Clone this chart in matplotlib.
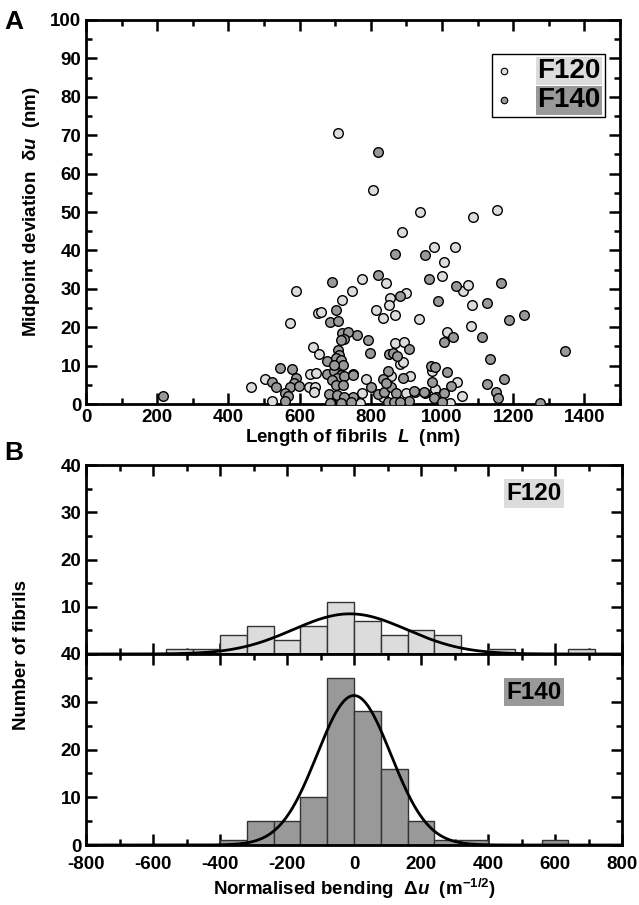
import matplotlib
matplotlib.use('Agg')
import matplotlib.pyplot as plt
from matplotlib.ticker import MultipleLocator
import numpy as np

plt.rcParams['font.family'] = ['Liberation Sans', 'DejaVu Sans']
plt.rcParams['font.weight'] = 'bold'
plt.rcParams['axes.labelweight'] = 'bold'
plt.rcParams['axes.unicode_minus'] = False
plt.rcParams['mathtext.fontset'] = 'custom'
plt.rcParams['mathtext.rm'] = 'Liberation Sans:bold'
plt.rcParams['mathtext.it'] = 'Liberation Sans:italic:bold'
plt.rcParams['mathtext.bf'] = 'Liberation Sans:bold'

LIGHT = '#dcdcdc'
DARK = '#999999'

# panel A: length of fibril (nm) vs midpoint deviation (nm)
f120_len = [708, 806, 937, 1088, 1155, 889, 977, 1037, 1007, 775, 842, 746, 1000, 1059,
            1072, 854, 900, 1085, 850, 814, 835, 869, 936, 1081, 1013, 869, 894, 882,
            891, 786, 911, 973, 1041, 979, 923, 899, 1003, 1023, 1055, 774, 770, 833,
            589, 720, 653, 660, 574, 638, 655, 504, 523, 463, 628, 645, 626, 643, 640, 857]
f120_dev = [70.5, 55.8, 50.0, 48.7, 50.4, 44.8, 41.0, 40.8, 37.1, 32.5, 31.5, 29.4, 33.4, 29.5,
            30.9, 27.5, 28.9, 25.9, 25.8, 24.5, 22.5, 23.2, 22.1, 20.2, 18.7, 15.8, 16.2, 10.4,
            10.9, 6.6, 7.2, 8.7, 5.8, 3.8, 3.0, 2.8, 0.2, 0.3, 2.2, 2.8, 0.3, 1.9,
            29.3, 27.2, 23.8, 24.0, 21.1, 14.8, 13.0, 6.6, 0.9, 4.4, 7.9, 8.0, 4.4, 4.5, 3.0, 7.2]

f140_len = [820, 869, 951, 819, 963, 1039, 1165, 692, 881, 990, 1126, 1229, 1187, 702,
            686, 708, 760, 792, 1005, 1030, 1111, 719, 736, 725, 716, 798, 907, 852,
            861, 874, 1345, 1136, 707, 678, 750, 800, 849, 833, 890, 970, 979, 1013,
            1024, 973, 953, 921, 906, 982, 1007, 751, 821, 838, 857, 871, 847, 866,
            883, 843, 1175, 1127, 1153, 1157, 1274, 546, 579, 523, 534, 590, 584, 574,
            598, 558, 568, 560, 215, 950, 977, 999, 678, 697, 716, 706, 725, 692,
            702, 721, 683, 706, 725, 686, 716, 744, 749, 711, 702, 716, 721, 697]
f140_dev = [65.5, 39.0, 38.8, 33.5, 32.6, 30.8, 31.4, 31.9, 28.1, 26.9, 26.3, 23.2, 22.0, 24.6,
            21.4, 21.7, 18.0, 16.7, 16.2, 17.4, 17.5, 18.5, 18.8, 16.9, 16.6, 13.3, 14.4, 12.9,
            13.4, 12.6, 13.8, 11.7, 14.1, 11.1, 7.7, 4.5, 8.7, 6.6, 6.9, 10.0, 9.6, 8.4,
            4.7, 5.8, 2.8, 3.5, 0.9, 1.9, 2.8, 1.9, 2.6, 3.2, 4.5, 2.8, 0.6, 0.6,
            0.6, 5.4, 6.6, 5.2, 3.2, 1.6, 0.2, 9.3, 9.1, 5.7, 4.5, 6.7, 5.4, 4.5,
            4.7, 2.8, 2.2, 0.8, 2.0, 3.2, 1.6, 0.4, 7.9, 8.7, 7.6, 6.7, 7.2, 6.3,
            5.0, 5.0, 2.6, 2.4, 1.9, 0.3, 0.3, 0.6, 7.6, 12.8, 12.0, 11.5, 10.2, 10.2]

# panel B: histograms of normalised bending (bin width 80)
bin_width = 80
f120_bins = [-560, -480, -400, -320, -240, -160, -80, 0, 80, 160, 240, 320, 400, 480, 560, 640]
f120_counts = [1, 1, 4, 6, 3, 6, 11, 7, 4, 5, 4, 0, 1, 0, 0, 1]
f140_bins = [-400, -320, -240, -160, -80, 0, 80, 160, 240, 320, 400, 480, 560]
f140_counts = [1, 5, 5, 10, 35, 28, 16, 5, 1, 1, 0, 0, 1]

# gaussian fits (centre, sigma, peak height)
f120_fit = (-12, 170, 8.5)
f140_fit = (0, 110, 31.3)

fig = plt.figure(figsize=(6.39, 9.05), dpi=100)
W, H = 639.0, 905.0
ax = fig.add_axes([86 / W, 1 - 404 / H, (620 - 86) / W, (404 - 20) / H])
ax1 = fig.add_axes([86 / W, 1 - 654 / H, (622 - 86) / W, (654 - 465) / H])
ax2 = fig.add_axes([86 / W, 1 - 845 / H, (622 - 86) / W, (845 - 654) / H])


def style(a):
    for s in a.spines.values():
        s.set_linewidth(2)
    a.tick_params(which='both', direction='in', top=True, right=True, width=1.8,
                  labelsize=13.5)
    a.tick_params(which='major', length=8)
    a.tick_params(which='minor', length=4)


# scatter
ax.scatter(f120_len, f120_dev, s=48, c=LIGHT, edgecolors='black', linewidths=1, zorder=3)
ax.scatter(f140_len, f140_dev, s=48, c=DARK, edgecolors='black', linewidths=1, zorder=3)
ax.set_xlim(0, 1500)
ax.set_ylim(0, 100)
ax.xaxis.set_major_locator(MultipleLocator(200))
ax.xaxis.set_minor_locator(MultipleLocator(100))
ax.yaxis.set_major_locator(MultipleLocator(10))
ax.yaxis.set_minor_locator(MultipleLocator(5))
style(ax)
ax.set_xlabel(r'Length of fibrils  $\mathit{L}$  (nm)', fontsize=13.5, labelpad=1)
ax.set_ylabel(r'Midpoint deviation  $\mathrm{\delta}\mathit{u}$  (nm)', fontsize=13.5, labelpad=6)

h1 = ax.scatter([], [], s=22, c=LIGHT, edgecolors='black', linewidths=0.8)
h2 = ax.scatter([], [], s=22, c=DARK, edgecolors='black', linewidths=0.8)
leg = ax.legend([h1, h2], ['F120', 'F140'], loc='upper right',
                bbox_to_anchor=(0.972, 0.912), fontsize=20, frameon=True, fancybox=False,
                framealpha=1, edgecolor='black', handlelength=0.6, handletextpad=0.9,
                borderpad=0.15, labelspacing=0.12, borderaxespad=0)
leg.get_frame().set_linewidth(1)
for t, col in zip(leg.get_texts(), [LIGHT, DARK]):
    t.set_bbox(dict(facecolor=col, edgecolor='none', pad=1))

# histograms
for a, bins, counts, fit, col, lab, ly in [
        (ax1, f120_bins, f120_counts, f120_fit, LIGHT, 'F120', 0.85),
        (ax2, f140_bins, f140_counts, f140_fit, DARK, 'F140', 0.80)]:
    a.bar(bins, counts, width=bin_width, align='edge', color=col, edgecolor='#333333',
          linewidth=1, zorder=2)
    xs = np.linspace(-800, 800, 400)
    mu, sig, pk = fit
    a.plot(xs, pk * np.exp(-0.5 * ((xs - mu) / sig) ** 2), color='black', lw=2, zorder=3)
    a.set_xlim(-800, 800)
    a.set_ylim(0, 40)
    a.xaxis.set_major_locator(MultipleLocator(200))
    a.xaxis.set_minor_locator(MultipleLocator(100))
    a.yaxis.set_major_locator(MultipleLocator(10))
    a.yaxis.set_minor_locator(MultipleLocator(5))
    style(a)
    a.text(0.836, ly, lab, transform=a.transAxes, fontsize=17.5, ha='center', va='center',
           bbox=dict(facecolor=col, edgecolor='none', pad=2))

ax1.tick_params(labelbottom=False)
ax1.set_yticks([10, 20, 30, 40])
ax2.tick_params(axis='x', pad=8)
ax2.set_xlabel(r'Normalised bending  $\mathrm{\Delta}\mathit{u}$  (m$^{\mathrm{-1/2}}$)',
               fontsize=13.5, labelpad=3)
fig.text(22 / W, 1 - 655 / H, 'Number of fibrils', rotation=90, fontsize=13.5,
         ha='center', va='center')

fig.text(14 / W, 1 - 22 / H, 'A', fontsize=19, ha='center', va='center')
fig.text(14 / W, 1 - 453 / H, 'B', fontsize=19, ha='center', va='center')

fig.savefig('out.png', dpi=100)
